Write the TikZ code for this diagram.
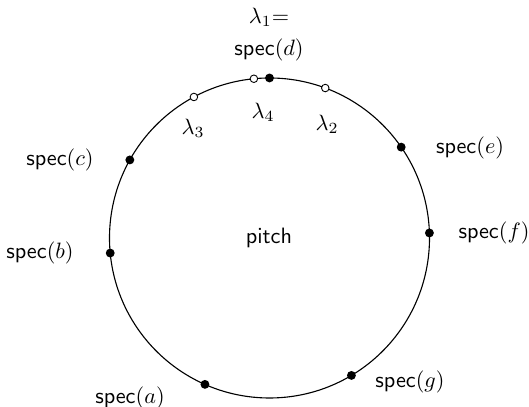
\documentclass[tikz,border=0pt]{standalone}
\usetikzlibrary{calc}
\begin{document}
\begin{tikzpicture}[x=0.45pt,y=0.45pt,
  fulldot/.style={circle,fill=black,inner sep=0pt,minimum size=4pt},
  opendot/.style={circle,draw=black,fill=white,line width=0.4pt,inner sep=0pt,minimum size=3.4pt},
  lbl/.style={inner sep=0pt}]
\useasboundingbox (0,0) rectangle (529,407);
\coordinate (c) at (269.5,169);
\draw[line width=0.5pt] (c) circle [radius=72pt];
\node[lbl] (pitch) at (269,169) {$\mathsf{pitch}$};
% dots
\node[fulldot] (d) at ($(c)+(90:160)$) {};
\node[opendot] (l4) at ($(c)+(95.6:160)$) {};
\node[opendot] (l3) at ($(c)+(118.2:160)$) {};
\node[opendot] (l2) at ($(c)+(69.6:160)$) {};
\node[fulldot] (cc) at ($(c)+(150.8:160)$) {};
\node[fulldot] (b) at ($(c)+(185.4:160)$) {};
\node[fulldot] (e) at ($(c)+(34.6:160)$) {};
\node[fulldot] (f) at ($(c)+(1.8:160)$) {};
\node[fulldot] (a) at ($(c)+(246.2:160)$) {};
\node[fulldot] (g) at ($(c)+(-59.2:160)$) {};
% labels
\node[lbl] (l1t) at (269,390) {$\lambda_1{=}$};
\node[lbl] (dt) at (269,357) {$\mathsf{spec}(d)$};
\node[lbl] (l4t) at (263,295) {$\lambda_4$};
\node[lbl] (l3t) at (193,279) {$\lambda_3$};
\node[lbl] (l2t) at (327,283) {$\lambda_2$};
\node[lbl] (ct) at (60,247) {$\mathsf{spec}(c)$};
\node[lbl] (bt) at (40,154) {$\mathsf{spec}(b)$};
\node[lbl] (et) at (470,259) {$\mathsf{spec}(e)$};
\node[lbl] (ft) at (494,174) {$\mathsf{spec}(f)$};
\node[lbl] (at) at (130,9) {$\mathsf{spec}(a)$};
\node[lbl] (gt) at (410,25) {$\mathsf{spec}(g)$};
\end{tikzpicture}
\end{document}
